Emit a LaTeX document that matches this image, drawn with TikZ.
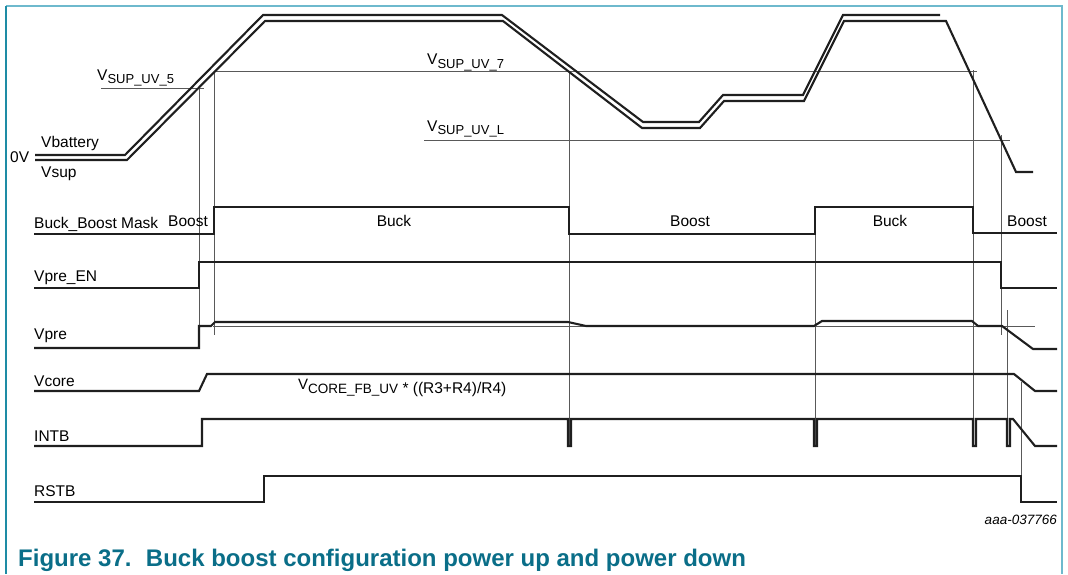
\documentclass[tikz,border=0pt]{standalone}
\usepackage{fontspec}
\setmainfont{Liberation Sans}
\definecolor{frameA}{RGB}{30,140,165}
\definecolor{frameB}{RGB}{110,185,205}
\definecolor{capt}{RGB}{10,110,136}
\newcommand\mysub[1]{\raisebox{-3.5pt}{\fontsize{13}{14}\selectfont #1}}
\begin{document}
\begin{tikzpicture}[x=1pt,y=-1pt,
  sig/.style={line width=2.1pt, black!88, line join=miter},
  thinline/.style={line width=0.9pt, black!65},
  lbl/.style={inner sep=0pt, anchor=base west, font=\fontsize{15.5}{18}\selectfont},
  mode/.style={inner sep=0pt, anchor=base, font=\fontsize{15.5}{18}\selectfont}]
\useasboundingbox (0,0) rectangle (1068,574);
% frame
\draw[frameB, line width=1.2pt] (6,6) -- (1062,6) -- (1062,574);
\draw[frameA, line width=1.4pt] (6,6) -- (6,574);
% threshold lines
\draw[thinline] (101,88) -- (204,88);
\draw[thinline] (214,71) -- (977,71);
\draw[thinline] (424,140) -- (1010,140);
\draw[thinline] (213,326) -- (1035,326);
% vertical markers
\draw[thinline] (199,88) -- (199,348);
\draw[thinline] (214,71) -- (214,335);
\draw[thinline] (569,71) -- (569,446);
\draw[thinline] (815,207) -- (815,446);
\draw[thinline] (973,70) -- (973,446);
\draw[thinline] (1001,135) -- (1001,335);
\draw[thinline] (1007,310) -- (1007,419);
\draw[thinline] (1021,382) -- (1021,476);
% supply
\draw[sig] (35,155) -- (125,155) -- (263,15) -- (502,15) -- (643,122) -- (699,122) -- (723,95) -- (803,95) -- (843,15) -- (940,15);
\draw[sig] (35,160) -- (127,160) -- (265,21) -- (503,21) -- (642,128) -- (700,128) -- (724,101) -- (804,101) -- (844,21) -- (946,21) -- (1016,172) -- (1033,172);
% Buck_Boost mask
\draw[sig] (34,234) -- (214,234) -- (214,207) -- (569,207) -- (569,234) -- (815,234) -- (815,207) -- (973,207) -- (973,233) -- (1057,233);
% Vpre_EN
\draw[sig] (34,288) -- (199,288) -- (199,262) -- (1001,262) -- (1001,288) -- (1057,288);
% Vpre
\draw[sig] (34,348) -- (199,348) -- (199,326) -- (211,326) -- (215,322) -- (568,322) -- (586,326) -- (814,326) -- (822,321) -- (972,321) -- (978,326) -- (1002,326) -- (1033,349) -- (1057,349);
% Vcore
\draw[sig] (34,391) -- (199,391) -- (207,374) -- (1014,374) -- (1035,391) -- (1057,391);
% INTB
\draw[sig] (34,446) -- (202,446) -- (202,419) -- (568,419) -- (568,446) -- (571,446) -- (571,419) -- (814,419) -- (814,446) -- (817,446) -- (817,419) -- (973,419) -- (973,446) -- (976,446) -- (976,419) -- (1007,419) -- (1007,446) -- (1010,446) -- (1010,419) -- (1013,419) -- (1035,446) -- (1057,446);
% RSTB
\draw[sig] (34,502) -- (264,502) -- (264,476) -- (1021,476) -- (1021,502) -- (1057,502);
% labels
\node[lbl] (l0v) at (10,162) {0V};
\node[lbl] (lbat) at (41,147) {Vbattery};
\node[lbl] (lsup) at (41,177) {Vsup};
\node[lbl] (luv5) at (97,80) {V\mysub{SUP\_UV\_5}};
\node[lbl] (luv7) at (427,64.5) {V\mysub{SUP\_UV\_7}};
\node[lbl] (luvl) at (427,131) {V\mysub{SUP\_UV\_L}};
\node[lbl] (lmask) at (34,228) {Buck\_Boost Mask};
\node[lbl] (lb1) at (168,226) {Boost};
\node[mode] (lb2) at (394,226) {Buck};
\node[mode] (lb3) at (690,226) {Boost};
\node[mode] (lb4) at (890,226) {Buck};
\node[mode] (lb5) at (1027,226) {Boost};
\node[lbl] (len) at (34,281) {Vpre\_EN};
\node[lbl] (lvpre) at (34,339) {Vpre};
\node[lbl] (lvcore) at (34,386) {Vcore};
\node[lbl] (lintb) at (34,441) {INTB};
\node[lbl] (lrstb) at (34,496) {RSTB};
\node[inner sep=0pt, anchor=base west, font=\fontsize{15}{17}\selectfont] (lfb) at (298,389)
  {V\raisebox{-4pt}{\fontsize{13.5}{14}\selectfont CORE\_FB\_UV\fontsize{15.5}{17}\selectfont{} * ((R3+R4)/R4)}};
\node[inner sep=0pt, anchor=base east, font=\itshape\fontsize{13.5}{15}\selectfont] (lid) at (1057,524) {aaa-037766};
\node[inner sep=0pt, anchor=base west, text=capt, font=\bfseries\fontsize{24}{27}\selectfont] (cap) at (18,566)
  {Figure 37.\hspace{0.6em}Buck boost configuration power up and power down};
\end{tikzpicture}
\end{document}
